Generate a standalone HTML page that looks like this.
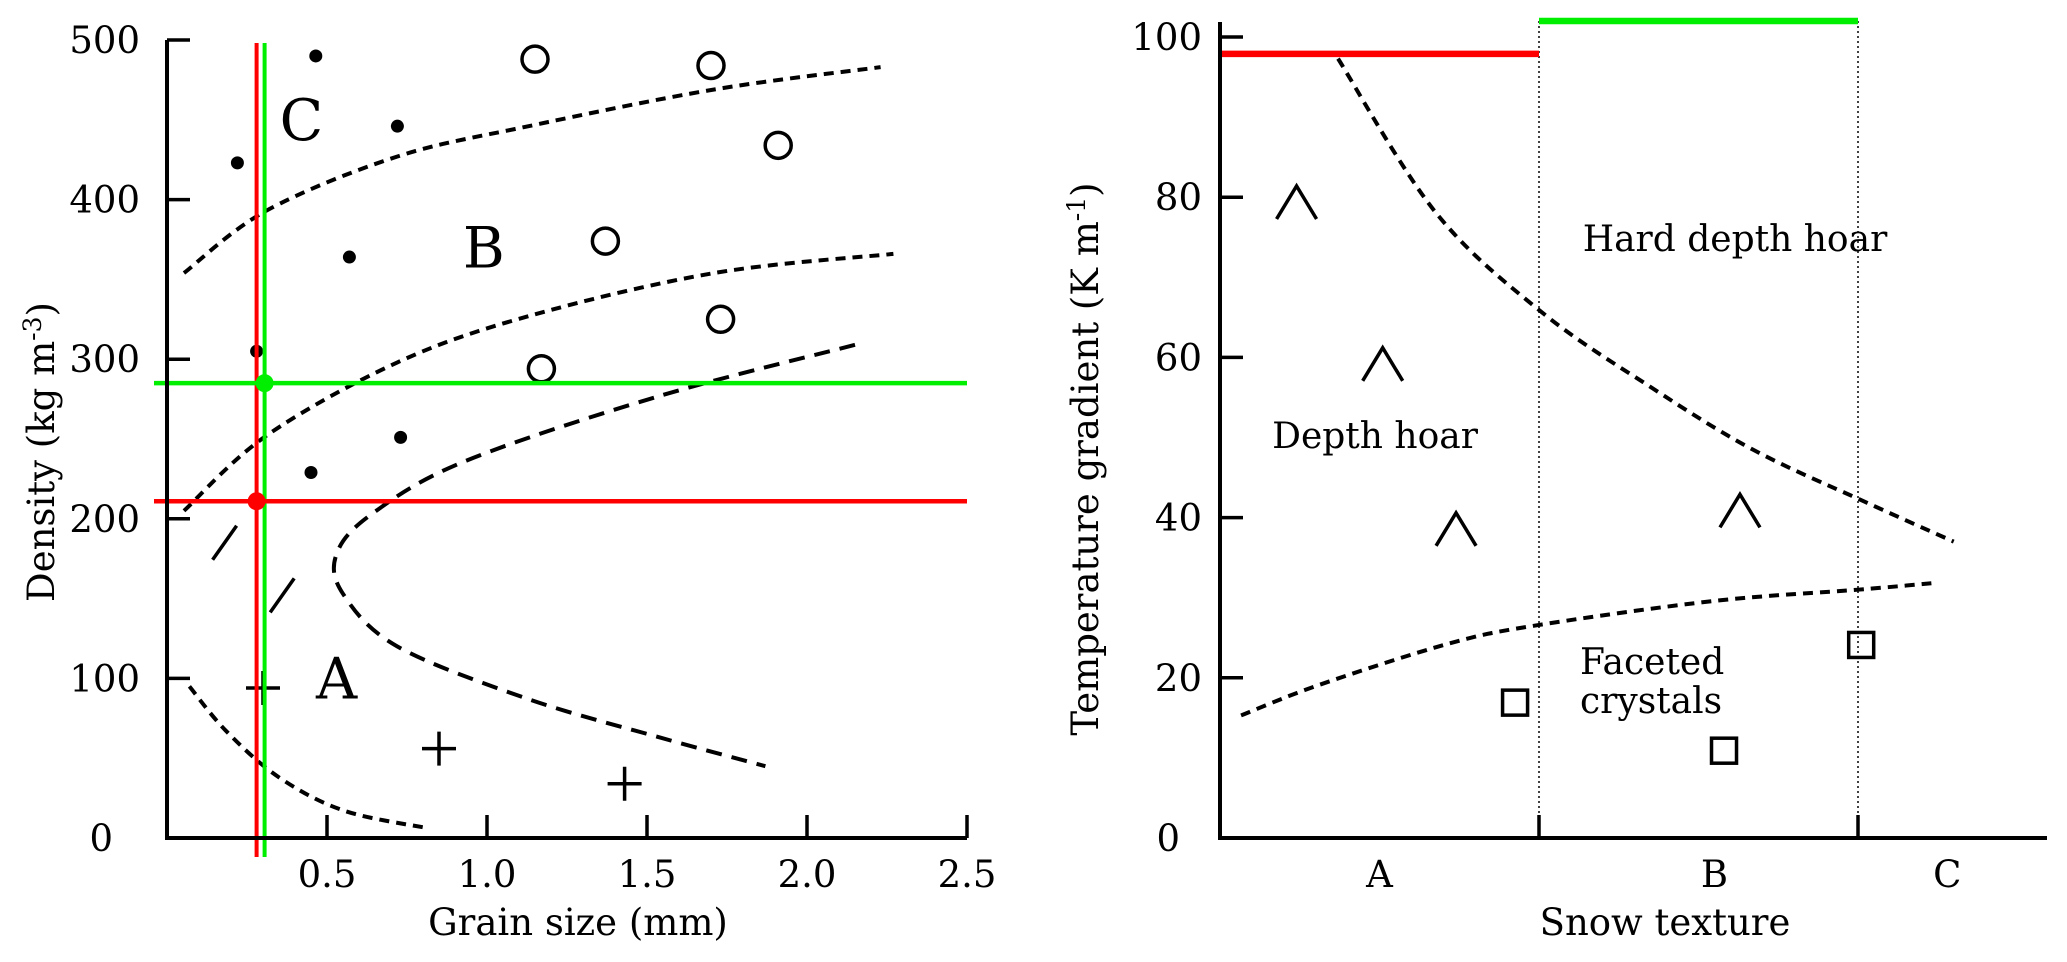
<!DOCTYPE html>
<html><head><meta charset="utf-8"><style>
html,body{margin:0;padding:0;background:#fff;}
svg{display:block;}
text{font-family:"DejaVu Serif","Liberation Serif",serif;fill:#000;}
</style></head><body>
<svg id="fig" width="2067" height="962" viewBox="0 0 2067 962" xmlns="http://www.w3.org/2000/svg">
<g id="left"></g>
<g id="right"></g>
</svg>
<script>
// ---------- Left chart data ----------
const xTicksL = [0.5, 1.0, 1.5, 2.0, 2.5];
const xTickLabelsL = ["0.5", "1.0", "1.5", "2.0", "2.5"];
const yTicksL = [0, 100, 200, 300, 400, 500];
const yTickLabelsL = ["0", "100", "200", "300", "400", "500"];
const dotX = [0.465, 0.72, 0.22, 0.57, 0.28, 0.73, 0.45];
const dotY = [490, 446, 423, 364, 305, 251, 229];
const circX = [1.15, 1.70, 1.91, 1.37, 1.73, 1.17];
const circY = [488, 484, 434, 374, 325, 294];
const plusX = [0.30, 0.85, 1.43];
const plusY = [94, 56, 34];
const slashX = [0.18, 0.36];
const slashY = [185, 152];
const curveC_X = [0.053, 0.31, 0.72, 1.13, 1.71, 2.23];
const curveC_Y = [354, 393, 427, 446, 469, 483];
const curveB_X = [0.053, 0.31, 0.72, 1.13, 1.71, 2.27];
const curveB_Y = [205, 252, 298, 327, 354, 366];
const curveA_X = [2.15, 1.54, 0.93, 0.64, 0.53, 0.55, 0.72, 1.13, 1.54, 1.87];
const curveA_Y = [309, 277, 236, 203, 178, 153, 120, 87, 63, 45];
const curveD_X = [0.07, 0.185, 0.35, 0.555, 0.82];
const curveD_Y = [95, 67, 38, 17, 6];
const redGrain = 0.28, greenGrain = 0.305;
const redDensity = 211, greenDensity = 285;
const regionLabels = ["C", "B", "A"];
const regionX = [0.42, 0.99, 0.53];
const regionY = [450, 370, 100];

// ---------- Right chart data ----------
const xTicksR = [1, 2];
const catLabels = ["A", "B", "C"];
const catPos = [0.5, 1.55, 2.28];
const yTicksR = [0, 20, 40, 60, 80, 100];
const yTickLabelsR = ["0", "20", "40", "60", "80", "100"];
const caretX = [0.24, 0.51, 0.74, 1.63];
const caretY = [79.4, 59.2, 38.6, 40.9];
const sqX = [0.925, 1.58, 2.01];
const sqY = [16.9, 10.9, 24.1];
const hardX = [0.37, 0.676, 1.01, 1.35, 1.67, 2.02, 2.30];
const hardY = [97.3, 78.1, 65.6, 56.3, 48.5, 42.0, 37.0];
const facX = [0.066, 0.31, 0.72, 1.0, 1.55, 2.0, 2.23];
const facY = [15.3, 19.1, 24.3, 26.6, 29.6, 31, 31.8];
const redGrad = 97.9, greenGrad = 102;

const NS = "http://www.w3.org/2000/svg";
const lx = d => 167 + d * 320;
const ly = d => 838 - d * 1.596;
const rx = d => 1220 + d * 319;
const ry = d => 838 - d * 8.01;

function mk(parent, tag, attrs, txt) {
  const e = document.createElementNS(NS, tag);
  for (const k in attrs) e.setAttribute(k, attrs[k]);
  if (txt !== undefined) e.textContent = txt;
  parent.appendChild(e);
  return e;
}
function smooth(pts) {
  let d = "M" + pts[0][0] + "," + pts[0][1];
  for (let i = 0; i < pts.length - 1; i++) {
    const p0 = pts[i - 1] || pts[i], p1 = pts[i], p2 = pts[i + 1], p3 = pts[i + 2] || p2;
    const c1 = [p1[0] + (p2[0] - p0[0]) / 6, p1[1] + (p2[1] - p0[1]) / 6];
    const c2 = [p2[0] - (p3[0] - p1[0]) / 6, p2[1] - (p3[1] - p1[1]) / 6];
    d += " C" + c1 + " " + c2 + " " + p2;
  }
  return d;
}
const L = document.getElementById("left");
const R = document.getElementById("right");

// ===== Left chart =====
let e;
e = mk(L, "path", {d: smooth(curveC_X.map((x, i) => [lx(x), ly(curveC_Y[i])])), fill: "none", stroke: "#000", "stroke-width": 4, "stroke-dasharray": "10,7"});


e = mk(L, "path", {d: smooth(curveB_X.map((x, i) => [lx(x), ly(curveB_Y[i])])), fill: "none", stroke: "#000", "stroke-width": 4, "stroke-dasharray": "10,7"});


e = mk(L, "path", {d: smooth(curveA_X.map((x, i) => [lx(x), ly(curveA_Y[i])])), fill: "none", stroke: "#000", "stroke-width": 4, "stroke-dasharray": "16,10"});


e = mk(L, "path", {d: smooth(curveD_X.map((x, i) => [lx(x), ly(curveD_Y[i])])), fill: "none", stroke: "#000", "stroke-width": 4, "stroke-dasharray": "10,7"});



dotX.forEach((x, i) => {
  const c = mk(L, "circle", {cx: lx(x), cy: ly(dotY[i]), r: 6.5, fill: "#000"});
  
  
});
circX.forEach((x, i) => {
  const c = mk(L, "circle", {cx: lx(x), cy: ly(circY[i]), r: 13, fill: "none", stroke: "#000", "stroke-width": 3.5});
  
  
});
plusX.forEach((x, i) => {
  const cx = lx(x), cy = ly(plusY[i]);
  const p = mk(L, "path", {d: `M${cx - 17},${cy}H${cx + 17}M${cx},${cy - 17}V${cy + 17}`, stroke: "#000", "stroke-width": 3.5});
  
  
});
slashX.forEach((x, i) => {
  const cx = lx(x), cy = ly(slashY[i]);
  const p = mk(L, "path", {d: `M${cx - 12},${cy + 17}L${cx + 12},${cy - 17}`, stroke: "#000", "stroke-width": 3.5});
  
  
});
regionLabels.forEach((t, i) => {
  const tx = mk(L, "text", {x: lx(regionX[i]), y: ly(regionY[i]) + 20, "font-size": 57, "text-anchor": "middle"}, t);
  
  
});

// crosshair lines
e = mk(L, "line", {x1: lx(greenGrain), x2: lx(greenGrain), y1: 43, y2: 857, stroke: "#00ee00", "stroke-width": 4});


e = mk(L, "line", {x1: lx(redGrain), x2: lx(redGrain), y1: 43, y2: 857, stroke: "#ff0000", "stroke-width": 4});


e = mk(L, "line", {x1: 154, x2: 967, y1: ly(greenDensity), y2: ly(greenDensity), stroke: "#00ee00", "stroke-width": 4.5});


e = mk(L, "line", {x1: 154, x2: 967, y1: ly(redDensity), y2: ly(redDensity), stroke: "#ff0000", "stroke-width": 4.5});


e = mk(L, "circle", {cx: lx(greenGrain), cy: ly(greenDensity), r: 9, fill: "#00ee00"});


e = mk(L, "circle", {cx: lx(redGrain), cy: ly(redDensity), r: 9, fill: "#ff0000"});



// axes left
e = mk(L, "path", {d: `M${lx(0)},${ly(500)}V${ly(0)}H${lx(2.5)}`, fill: "none", stroke: "#000", "stroke-width": 4});


xTicksL.forEach((t, i) => {
  const g = mk(L, "line", {x1: lx(t), x2: lx(t), y1: ly(0), y2: ly(0) - 23, stroke: "#000", "stroke-width": 3.5});
  
  
  const tx = mk(L, "text", {x: lx(t), y: 887, "font-size": 37, "text-anchor": "middle"}, xTickLabelsL[i]);
  
  
});
yTicksL.forEach((t, i) => {
  if (t > 0) {
    const g = mk(L, "line", {x1: lx(0), x2: lx(0) + 23, y1: ly(t), y2: ly(t), stroke: "#000", "stroke-width": 3.5});
    
    
  }
  const tx = mk(L, "text", {x: t === 0 ? 113 : 140, y: ly(t) + 13, "font-size": 37, "text-anchor": "end"}, yTickLabelsL[i]);
  
  
});
e = mk(L, "text", {x: 578, y: 935, "font-size": 37, "text-anchor": "middle"}, "Grain size (mm)");


e = mk(L, "text", {x: 0, y: 0, "font-size": 37, "text-anchor": "middle", transform: "translate(54,452) rotate(-90)"});


e.innerHTML = 'Density (kg m<tspan dy="-13" font-size="25">-3</tspan><tspan dy="13">)</tspan>';

// ===== Right chart =====
xTicksR.forEach(t => {
  const g = mk(R, "line", {x1: rx(t), x2: rx(t), y1: ry(0), y2: ry(greenGrad), stroke: "#000", "stroke-width": 1.5, "stroke-dasharray": "2,3"});
  
  
});
e = mk(R, "path", {d: smooth(hardX.map((x, i) => [rx(x), ry(hardY[i])])), fill: "none", stroke: "#000", "stroke-width": 4, "stroke-dasharray": "10,7"});


e = mk(R, "path", {d: smooth(facX.map((x, i) => [rx(x), ry(facY[i])])), fill: "none", stroke: "#000", "stroke-width": 4, "stroke-dasharray": "10,7"});


caretX.forEach((x, i) => {
  const cx = rx(x), cy = ry(caretY[i]);
  const p = mk(R, "path", {d: `M${cx - 20},${cy + 17}L${cx},${cy - 16}L${cx + 20},${cy + 17}`, fill: "none", stroke: "#000", "stroke-width": 3.5});
  
  
});
sqX.forEach((x, i) => {
  const s = mk(R, "rect", {x: rx(x) - 12.5, y: ry(sqY[i]) - 12.5, width: 25, height: 25, fill: "none", stroke: "#000", "stroke-width": 3.5});
  
  
});
e = mk(R, "line", {x1: rx(0), x2: rx(1), y1: ry(redGrad), y2: ry(redGrad), stroke: "#ff0000", "stroke-width": 6.5});


e = mk(R, "line", {x1: rx(1), x2: rx(2), y1: ry(greenGrad), y2: ry(greenGrad), stroke: "#00ee00", "stroke-width": 6.5});



e = mk(R, "text", {x: 1735, y: 251, "font-size": 36, "text-anchor": "middle"}, "Hard depth hoar");


e = mk(R, "text", {x: 1375, y: 448, "font-size": 36, "text-anchor": "middle"}, "Depth hoar");


e = mk(R, "text", {x: 1580, y: 674, "font-size": 36}, "Faceted");


e = mk(R, "text", {x: 1580, y: 713, "font-size": 36}, "crystals");



e = mk(R, "path", {d: `M${rx(0)},22V${ry(0)}H2047`, fill: "none", stroke: "#000", "stroke-width": 4});


xTicksR.forEach(t => {
  const g = mk(R, "line", {x1: rx(t), x2: rx(t), y1: ry(0), y2: ry(0) - 23, stroke: "#000", "stroke-width": 3.5});
  
  
});
catLabels.forEach((c, i) => {
  const tx = mk(R, "text", {x: rx(catPos[i]), y: 887, "font-size": 37, "text-anchor": "middle"}, c);
  
  
});
yTicksR.forEach((t, i) => {
  if (t > 0) {
    const g = mk(R, "line", {x1: rx(0), x2: rx(0) + 23, y1: ry(t), y2: ry(t), stroke: "#000", "stroke-width": 3.5});
    
    
  }
  const tx = mk(R, "text", {x: t === 0 ? 1180 : 1202, y: ry(t) + 13, "font-size": 37, "text-anchor": "end"}, yTickLabelsR[i]);
  
  
});
e = mk(R, "text", {x: 1665, y: 935, "font-size": 37, "text-anchor": "middle"}, "Snow texture");


e = mk(R, "text", {x: 0, y: 0, "font-size": 37, "text-anchor": "middle", transform: "translate(1098,459) rotate(-90)"});


e.innerHTML = 'Temperature gradient (K m<tspan dy="-13" font-size="25">-1</tspan><tspan dy="13">)</tspan>';
</script>
</body></html>
